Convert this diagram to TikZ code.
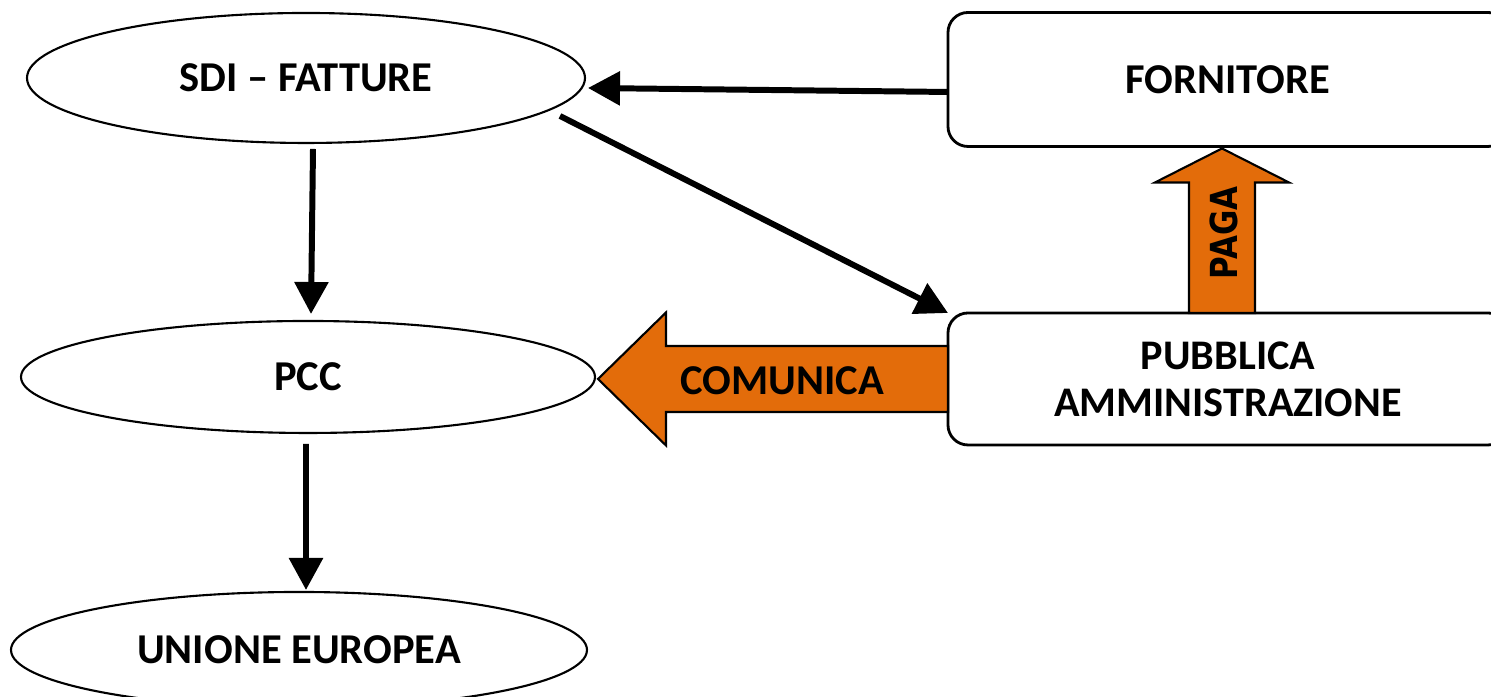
\documentclass[tikz,border=0pt]{standalone}
\usepackage{fontspec}
\setmainfont{Carlito}
\newfontfamily\pagafont{DejaVu Sans}
\usetikzlibrary{shapes.geometric,arrows.meta}
\definecolor{fillorange}{RGB}{227,108,10}

\begin{document}
\begin{tikzpicture}
        \tikzset{
    oval/.style={ellipse, draw, line width=0.6pt, outer sep=0pt, inner sep=0pt, font=\fontsize{12.1}{14}\selectfont\bfseries},
    box/.style={rectangle, rounded corners=2mm, draw, line width=0.8pt, outer sep=0pt, minimum width=5.6cm, align=center},
    conn/.style={line width=1.7pt, -{Triangle[length=3.2mm,width=3.3mm]}},
    fat/.style={draw, line width=0.6pt, fill=fillorange, line join=miter},
        }
        \useasboundingbox (0,0) rectangle (14.91,6.97);

        % Place the nodes first.
        \path (3.06,6.19)  node[oval, minimum width=5.58cm, minimum height=1.30cm] (sdi)  {SDI – FATTURE};
        \path (3.08,3.20)  node[oval, minimum width=5.74cm, minimum height=1.12cm] (pcc)  {PCC};
        \path (2.99,0.47)  node[oval, minimum width=5.76cm, minimum height=1.16cm] (ue)   {UNIONE EUROPEA};
        \path (12.28,6.175) node[box, minimum height=1.34cm, font=\fontsize{12.1}{14}\selectfont\bfseries] (forn) {FORNITORE};
        \path (12.28,3.18) node[box, minimum height=1.32cm, font=\fontsize{12}{14.8}\selectfont\bfseries] (pa) {\raisebox{-0.5mm}{PUBBLICA}\\AMMINISTRAZIONE};

        % Black connectors.
        \draw[conn] ([yshift=-1.25mm]forn.west) -- ([shift={(0.03,-0.1)}]sdi.east);
        \draw[conn] ([shift={(2.54,-0.38)}]sdi.center) -- (pa.north west);
        \draw[conn] ([shift={(0.07,-0.06)}]sdi.south) -- ([shift={(0.03,0.07)}]pcc.north);
        \draw[conn] ([shift={(-0.02,-0.11)}]pcc.south) -- ([shift={(0.07,0.02)}]ue.north);

        % Block arrows.
        \coordinate (ctip) at ([xshift=0.3mm]pcc.east |- pa.west); % tip of comunica
        \coordinate (pbase) at ([xshift=-0.6mm]pa.north);          % foot of paga
        \coordinate (ptip) at ([xshift=-0.6mm,yshift=-0.2mm]forn.south); % tip of paga
        \draw[fat] ([yshift=3.3mm]pa.west) -- ([shift={(0.68,0.33)}]ctip) -- ([shift={(0.68,0.665)}]ctip)
            -- (ctip) -- ([shift={(0.68,-0.665)}]ctip) -- ([shift={(0.68,-0.33)}]ctip) -- ([yshift=-3.3mm]pa.west) -- cycle;
        \draw[fat] ([xshift=-3.3mm]pbase) -- ([shift={(-0.33,-0.34)}]ptip) -- ([shift={(-0.67,-0.34)}]ptip)
            -- (ptip) -- ([shift={(0.67,-0.34)}]ptip) -- ([shift={(0.33,-0.34)}]ptip) -- ([xshift=3.3mm]pbase) -- cycle;

        % Labels on the block arrows.
        \path (7.82,3.16)  node[font=\fontsize{12.1}{14}\selectfont\bfseries] (comlbl) {COMUNICA};
        \path (12.24,4.64) node[rotate=90, font=\pagafont\fontsize{10.6}{12}\selectfont\bfseries] (pagalbl) {\scalebox{0.83}[1]{PAGA}};
      \end{tikzpicture}
\end{document}
